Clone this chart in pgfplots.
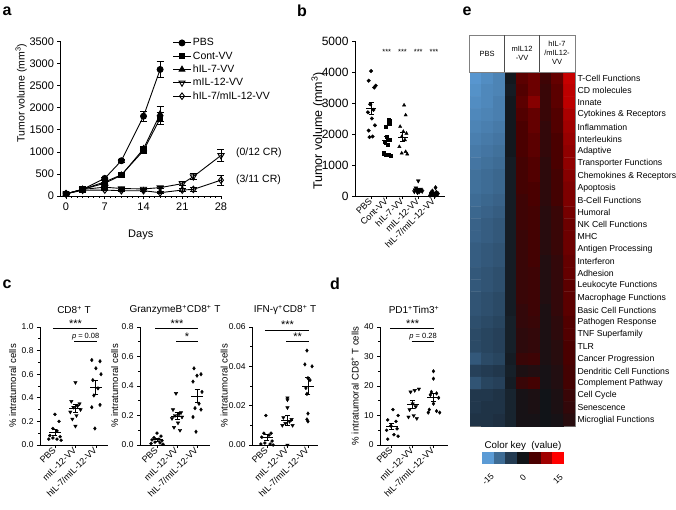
\documentclass[border=0pt]{standalone}
\usepackage{pgfplots}
\pgfplotsset{compat=1.18}
\usepackage{fontspec}
\setmainfont{Liberation Sans}
\newcommand\fs[1]{\fontsize{#1bp}{#1bp}\selectfont}
\pgfplotsset{
 /pgf/number format/assume math mode=true,
 /pgf/number format/1000 sep={},
 gp/.style={scale only axis, anchor=south west, axis x line*=bottom, axis y line*=left,
   axis line style={-, line width=0.8pt, black}, tick align=outside,
   tick style={black, line width=0.8pt}, major tick length=3bp, minor tick length=1.8bp,
   clip=false, enlargelimits=false, scaled ticks=false},
 msem/.style={black, only marks, mark=-, mark size=#1, line width=0.9pt,
   error bars/y dir=both, error bars/y explicit,
   error bars/error bar style={line width=0.9pt},
   error bars/error mark options={rotate=90, mark size=2.5bp, line width=0.9pt}},
 ebar/.style={error bars/y dir=both, error bars/y explicit,
   error bars/error bar style={line width=0.8pt, solid},
   error bars/error mark options={rotate=90, mark size=3.5bp, line width=0.8pt}},
 ccat/.style={xtick={0,1,2}, xticklabels={PBS,mIL-12-VV,hIL-7/mIL-12-VV},
   xticklabel style={rotate=45, anchor=east, font=\fs{9}, inner sep=1bp},
   yticklabel style={font=\fs{8.5}}, ylabel style={font=\fs{9.6}}, minor y tick num=1},
}
\definecolor{k1}{RGB}{91,155,213}
\definecolor{k2}{RGB}{62,108,149}
\definecolor{k3}{RGB}{35,59,82}
\definecolor{k4}{RGB}{17,20,24}
\definecolor{k5}{RGB}{74,0,0}
\definecolor{k6}{RGB}{160,0,0}
\definecolor{k7}{RGB}{255,0,0}
\begin{document}
\begin{tikzpicture}
\path[use as bounding box] (0,0) rectangle (676bp,-510bp);
% panel labels
\node[font=\fs{16}\bfseries] at (7bp,-11bp) {a};
\node[font=\fs{16}\bfseries] at (302bp,-11bp) {b};
\node[font=\fs{16}\bfseries] at (467bp,-11bp) {e};
\node[font=\fs{16}\bfseries] at (7bp,-284bp) {c};
\node[font=\fs{16}\bfseries] at (335bp,-284bp) {d};

% ---------------- panel a
\begin{axis}[gp, at={(60.5bp,-196bp)}, width=160.5bp, height=154.3bp,
  xmin=-1, xmax=28, ymin=0, ymax=3500,
  xtick={0,7,14,21,28}, minor xtick={1,2,3,4,5,6,8,9,10,11,12,13,15,16,17,18,19,20,22,23,24,25,26,27},
  ytick={0,500,1000,1500,2000,2500,3000,3500},
  ticklabel style={font=\fs{11}},
  xlabel={Days}, xlabel style={font=\fs{11}, at={(axis description cs:0.5,-0.255)}, anchor=center},
  ylabel={Tumor volume (mm\textsuperscript{3})}, ylabel style={font=\fs{10.5}, at={(axis description cs:-0.245,0.667)}, anchor=center},
  legend style={at={(axis description cs:0.70,1.035)}, anchor=north west, draw=none, fill=none,
    font=\fs{10.5}, row sep=0.4bp, inner sep=0pt},
  legend cell align=left]
\addplot[black, line width=0.9pt, mark=*, mark size=3bp, ebar] coordinates {
 (0,50)+-(0,10) (3,150)+-(0,15) (7,400)+-(0,30) (10,800)+-(0,40) (14,1810)+-(0,110) (17,2870)+-(0,180)};
\addlegendentry{PBS}
\addplot[black, line width=0.9pt, mark=square*, mark size=2.7bp, ebar] coordinates {
 (0,50)+-(0,10) (3,150)+-(0,15) (7,320)+-(0,25) (10,480)+-(0,30) (14,1030)+-(0,70) (17,1760)+-(0,140)};
\addlegendentry{Cont-VV}
\addplot[black, line width=0.9pt, mark=triangle*, mark size=3.3bp, ebar] coordinates {
 (0,50)+-(0,10) (3,150)+-(0,15) (7,290)+-(0,25) (10,470)+-(0,30) (14,1070)+-(0,60) (17,1860)+-(0,170)};
\addlegendentry{hIL-7-VV}
\addplot[black, line width=0.9pt, mark=triangle, mark size=3.5bp, mark options={rotate=180, fill=white, solid}, ebar] coordinates {
 (0,50)+-(0,10) (3,150)+-(0,15) (7,200)+-(0,20) (10,170)+-(0,20) (14,160)+-(0,20) (17,190)+-(0,25) (21,280)+-(0,40) (23,440)+-(0,70) (28,920)+-(0,130)};
\addlegendentry{mIL-12-VV}
\addplot[black, line width=0.9pt, mark=diamond, mark size=3.3bp, mark options={fill=white, solid}, ebar] coordinates {
 (0,50)+-(0,10) (3,130)+-(0,15) (7,135)+-(0,15) (10,120)+-(0,15) (14,120)+-(0,20) (17,75)+-(0,20) (21,135)+-(0,30) (23,150)+-(0,40) (28,360)+-(0,110)};
\addlegendentry{hIL-7/mIL-12-VV}
\node[anchor=west, font=\fs{10.5}] at (axis cs:30.1,975) {(0/12 CR)};
\node[anchor=west, font=\fs{10.5}] at (axis cs:30.1,363) {(3/11 CR)};
\end{axis}

% ---------------- panel b
\begin{axis}[gp, at={(355bp,-196bp)}, width=90bp, height=155bp,
  xmin=-1.02, xmax=4.7, ymin=0, ymax=5000,
  xtick={0,1,2,3,4}, xticklabels={PBS,Cont-VV,hIL-7-VV,mIL-12-VV,hIL-7/mIL-12-VV},
  xticklabel style={rotate=45, anchor=east, font=\fs{9}, inner sep=0.8bp},
  ytick={0,1000,2000,3000,4000,5000}, yticklabel style={font=\fs{12}},
  ylabel={Tumor volume (mm\textsuperscript{3})}, ylabel style={font=\fs{12.5}, at={(axis description cs:-0.41,0.42)}, anchor=center}]
\addplot[only marks, mark=*, mark size=1.8bp] coordinates {
 (0,4030) (-0.15,3720) (0.3,3560) (0.2,3500) (-0.05,2960) (0.15,2780) (-0.2,2700) (0.05,2500) (0.25,2280) (-0.15,2110) (0.1,1920) (-0.1,1900)};
\addplot[only marks, mark=square*, mark size=1.6bp] coordinates {
 (1.1,2470) (1.2,2420) (1.15,2320) (0.95,2240) (1.0,1910) (1.15,1810) (0.85,1750) (1.05,1650) (0.8,1380) (0.95,1340) (1.1,1320) (1.25,1310)};
\addplot[only marks, mark=triangle*, mark size=1.9bp] coordinates {
 (2.1,2930) (2.2,2610) (1.85,2240) (2.05,2080) (2.25,2020) (1.95,1910) (2.15,1810) (1.8,1590) (2.2,1430) (1.95,1380) (2.3,1350)};
\addplot[only marks, mark=triangle*, mark size=2.2bp, mark options={rotate=180}] coordinates {
 (3.0,490) (2.85,260) (3.15,220) (2.8,200) (3.2,190) (3.0,180) (2.9,170) (3.1,160) (3.25,150) (2.75,140) (3.05,130) (2.95,110)};
\addplot[only marks, mark=diamond*, mark size=2.2bp] coordinates {
 (4.1,270) (3.9,160) (4.15,120) (3.8,100) (4.25,80) (4.0,70) (3.85,60) (4.2,50) (3.95,40) (4.1,30) (3.75,20)};
\addplot[msem=5bp] coordinates {(0,2830)+-(0,200) (1,1790)+-(0,120) (2,1900)+-(0,150) (3,200)+-(0,30) (4,90)+-(0,25)};
\node[font=\fs{7.5}] at (axis cs:1,4640) {***};
\node[font=\fs{7.5}] at (axis cs:2,4640) {***};
\node[font=\fs{7.5}] at (axis cs:3,4640) {***};
\node[font=\fs{7.5}] at (axis cs:4,4640) {***};
\end{axis}

% ---------------- panel c1
\begin{axis}[gp, ccat, at={(40bp,-445bp)}, width=68bp, height=118bp,
  xmin=-0.73, xmax=2.59, ymin=0, ymax=1,
  ytick={0,0.2,0.4,0.6,0.8,1},
  yticklabel style={/pgf/number format/fixed, /pgf/number format/fixed zerofill, /pgf/number format/precision=1},
  ylabel={\% intratumoral cells}, ylabel style={at={(axis description cs:-0.40,0.5)}, anchor=center}]
\addplot[only marks, mark=*, mark size=1.5bp] coordinates {
 (0,0.26) (0.2,0.20) (-0.1,0.14) (0.1,0.12) (-0.25,0.08) (0.25,0.07) (-0.1,0.06) (0.1,0.05) (-0.3,0.05) (0.3,0.04)};
\addplot[only marks, mark=triangle*, mark size=2bp, mark options={rotate=180}] coordinates {
 (1,0.53) (0.8,0.37) (1.2,0.35) (1.1,0.33) (0.9,0.32) (1.25,0.30) (0.75,0.28) (1.05,0.25) (0.85,0.22) (1,0.16)};
\addplot[only marks, mark=diamond*, mark size=1.8bp] coordinates {
 (1.8,0.72) (2.2,0.71) (2.0,0.65) (2.25,0.60) (1.85,0.55) (2.1,0.48) (1.9,0.42) (2.2,0.34) (1.8,0.32) (1.95,0.14)};
\addplot[msem=6bp] coordinates {(0,0.107)+-(0,0.022) (1,0.31)+-(0,0.03) (2,0.49)+-(0,0.06)};
\draw[line width=0.9pt] (axis cs:-0.1,0.985) -- (axis cs:2.05,0.985);
\draw[line width=0.9pt] (axis cs:0.95,0.88) -- (axis cs:2.05,0.88);
\node[font=\fs{11}, anchor=base] at (axis cs:1,0.995) {***};
\node[font=\fs{7.5}, anchor=base] at (axis cs:1.5,0.9) {\textit{p} = 0.08};
\node[font=\fs{10}] at (rel axis cs:0.5,1) [yshift=17bp] {CD8\textsuperscript{+} T};
\end{axis}

% ---------------- panel c2
\begin{axis}[gp, ccat, at={(140bp,-445bp)}, width=70bp, height=118bp,
  xmin=-0.85, xmax=2.65, ymin=0, ymax=0.8,
  ytick={0,0.2,0.4,0.6,0.8},
  yticklabel style={/pgf/number format/fixed, /pgf/number format/fixed zerofill, /pgf/number format/precision=1},
  ylabel={\% intratumoral cells}, ylabel style={at={(axis description cs:-0.36,0.5)}, anchor=center}]
\addplot[only marks, mark=*, mark size=1.5bp] coordinates {
 (0,0.08) (0.2,0.06) (-0.15,0.05) (0.1,0.04) (-0.25,0.035) (0.25,0.03) (-0.1,0.02) (0.15,0.015) (-0.3,0.01) (0.3,0.005)};
\addplot[only marks, mark=triangle*, mark size=2bp, mark options={rotate=180}] coordinates {
 (0.95,0.35) (0.8,0.24) (1.2,0.22) (1.1,0.21) (0.9,0.20) (1.25,0.19) (0.75,0.18) (1.05,0.15) (0.85,0.12) (1.15,0.10)};
\addplot[only marks, mark=diamond*, mark size=1.8bp] coordinates {
 (1.85,0.52) (2.2,0.48) (2.0,0.47) (1.8,0.43) (2.25,0.36) (2.1,0.28) (1.9,0.25) (2.2,0.24) (1.8,0.19) (1.95,0.09)};
\addplot[msem=6bp] coordinates {(0,0.0345)+-(0,0.008) (1,0.196)+-(0,0.022) (2,0.331)+-(0,0.045)};
\draw[line width=0.9pt] (axis cs:-0.1,0.788) -- (axis cs:2.05,0.788);
\draw[line width=0.9pt] (axis cs:0.95,0.70) -- (axis cs:2.05,0.70);
\node[font=\fs{11}, anchor=base] at (axis cs:1,0.796) {***};
\node[font=\fs{11}, anchor=base] at (axis cs:1.5,0.708) {*};
\node[font=\fs{10}] at (rel axis cs:0.5,1) [yshift=17bp] {GranzymeB\textsuperscript{+}CD8\textsuperscript{+} T};
\end{axis}

% ---------------- panel c3
\begin{axis}[gp, ccat, at={(252bp,-445bp)}, width=66bp, height=118bp,
  xmin=-0.73, xmax=2.49, ymin=0, ymax=0.06,
  ytick={0,0.02,0.04,0.06},
  yticklabel style={/pgf/number format/fixed, /pgf/number format/fixed zerofill, /pgf/number format/precision=2},
  ylabel={\% intratumoral cells}, ylabel style={at={(axis description cs:-0.42,0.5)}, anchor=center}]
\addplot[only marks, mark=*, mark size=1.5bp] coordinates {
 (-0.05,0.015) (0.2,0.006) (-0.15,0.006) (0.1,0.005) (-0.25,0.004) (0.25,0.002) (-0.1,0.001) (0.15,0.0005) (-0.3,0.0005) (0.3,0.0)};
\addplot[only marks, mark=triangle*, mark size=2bp, mark options={rotate=180}] coordinates {
 (1.0,0.024) (1.0,0.023) (1.0,0.019) (0.8,0.014) (1.2,0.013) (1.1,0.012) (0.9,0.011) (1.25,0.010) (0.75,0.010) (1.0,0.0)};
\addplot[only marks, mark=diamond*, mark size=1.8bp] coordinates {
 (1.95,0.048) (1.85,0.041) (2.2,0.040) (2.0,0.034) (2.1,0.033) (1.9,0.029) (1.95,0.026) (2.0,0.016) (1.95,0.013) (2.0,0.012)};
\addplot[msem=6bp] coordinates {(0,0.004)+-(0,0.0015) (1,0.0125)+-(0,0.0025) (2,0.030)+-(0,0.0042)};
\draw[line width=0.9pt] (axis cs:-0.1,0.0585) -- (axis cs:2.05,0.0585);
\draw[line width=0.9pt] (axis cs:0.95,0.0525) -- (axis cs:2.05,0.0525);
\node[font=\fs{11}, anchor=base] at (axis cs:1,0.0591) {***};
\node[font=\fs{11}, anchor=base] at (axis cs:1.5,0.0531) {**};
\node[font=\fs{10}] at (rel axis cs:0.5,1) [yshift=17bp] {IFN-γ\textsuperscript{+}CD8\textsuperscript{+} T};
\end{axis}

% ---------------- panel d
\begin{axis}[gp, ccat, at={(380bp,-445bp)}, width=68bp, height=118bp,
  xmin=-0.57, xmax=2.7, ymin=0, ymax=40,
  ytick={0,10,20,30,40},
  ylabel={\% intratumoral CD8\textsuperscript{+} T cells}, ylabel style={at={(axis description cs:-0.37,0.5)}, anchor=center}]
\addplot[only marks, mark=*, mark size=1.5bp] coordinates {
 (0.05,12) (0.3,10) (-0.2,8.5) (0.2,8) (-0.05,6.5) (0.25,5.5) (-0.25,5) (0.1,3.5) (0.3,3) (-0.2,2)};
\addplot[only marks, mark=triangle*, mark size=2bp, mark options={rotate=180}] coordinates {
 (1.3,19) (1.1,18.5) (0.9,18) (1.0,14) (1.15,13) (0.85,12) (1.05,10) (0.8,9.5) (1.2,9)};
\addplot[only marks, mark=diamond*, mark size=1.8bp] coordinates {
 (2.0,25) (2.0,22.5) (1.9,18) (2.15,17.5) (1.85,17) (2.25,16) (2.0,14) (1.8,12) (2.15,11.5) (1.75,11) (2.3,11)};
\addplot[msem=6bp] coordinates {(0,6.2)+-(0,1.0) (1,13.7)+-(0,1.3) (2,16)+-(0,1.4)};
\draw[line width=0.9pt] (axis cs:-0.1,39.4) -- (axis cs:2.05,39.4);
\draw[line width=0.9pt] (axis cs:0.95,35) -- (axis cs:2.05,35);
\node[font=\fs{11}, anchor=base] at (axis cs:1,39.9) {***};
\node[font=\fs{7.5}, anchor=base] at (axis cs:1.5,36.2) {\textit{p} = 0.28};
\node[font=\fs{10}] at (rel axis cs:0.5,1) [yshift=17bp] {PD1\textsuperscript{+}Tim3\textsuperscript{+}};
\end{axis}

% ---------------- panel e heatmap
\begin{axis}[scale only axis, anchor=south west, at={(470bp,-426bp)}, width=105bp, height=354bp,
  xmin=-0.5, xmax=8.5, ymin=-0.5, ymax=28.5, y dir=reverse, enlargelimits=false,
  axis line style={gray, line width=0.5pt}, xtick=\empty,
  ytick={0,...,28}, major tick length=0pt, yticklabel pos=right,
  yticklabel style={font=\fs{8.7}, anchor=west, xshift=-1bp},
  yticklabels={T-Cell Functions,CD molecules,Innate,Cytokines \& Receptors,Inflammation,Interleukins,Adaptive,Transporter Functions,Chemokines \& Receptors,Apoptosis,B-Cell Functions,Humoral,NK Cell Functions,MHC,Antigen Processing,Interferon,Adhesion,Leukocyte Functions,Macrophage Functions,Basic Cell Functions,Pathogen Response,TNF Superfamily,TLR,Cancer Progression,Dendritic Cell Functions,Complement Pathway,Cell Cycle,Senescence,Microglial Functions},
  colormap={hm}{rgb255=(91,155,213) rgb255=(62,108,149) rgb255=(35,59,82) rgb255=(17,20,24) rgb255=(74,0,0) rgb255=(160,0,0) rgb255=(255,0,0)},
  point meta min=-15, point meta max=15]
\addplot[matrix plot*, mesh/cols=9, point meta=explicit] coordinates {
(0,0)[-14.5] (1,0)[-13.5] (2,0)[-12.5] (3,0)[-0.5] (4,0)[6] (5,0)[7] (6,0)[4] (7,0)[6.5] (8,0)[12]
(0,1)[-14] (1,1)[-13] (2,1)[-12.5] (3,1)[-1] (4,1)[5.5] (5,1)[7] (6,1)[3.5] (7,1)[6] (8,1)[11.5]
(0,2)[-13.5] (1,2)[-13] (2,2)[-12] (3,2)[-0.5] (4,2)[6] (5,2)[8.5] (6,2)[3.5] (7,2)[6] (8,2)[11.5]
(0,3)[-13] (1,3)[-12.5] (2,3)[-12] (3,3)[-0.5] (4,3)[5.5] (5,3)[6.5] (6,3)[3.5] (7,3)[5.5] (8,3)[10.5]
(0,4)[-12.5] (1,4)[-12] (2,4)[-11.5] (3,4)[-0.5] (4,4)[5] (5,4)[6.5] (6,4)[3] (7,4)[5.5] (8,4)[10]
(0,5)[-12] (1,5)[-11.5] (2,5)[-11] (3,5)[-0.5] (4,5)[5] (5,5)[6] (6,5)[3] (7,5)[5] (8,5)[9.5]
(0,6)[-11.5] (1,6)[-11] (2,6)[-10.5] (3,6)[-0.5] (4,6)[5] (5,6)[6] (6,6)[3] (7,6)[5] (8,6)[9]
(0,7)[-11] (1,7)[-10.5] (2,7)[-10] (3,7)[-1] (4,7)[4.5] (5,7)[5.5] (6,7)[2.5] (7,7)[5] (8,7)[9]
(0,8)[-10.5] (1,8)[-10] (2,8)[-9.5] (3,8)[-1] (4,8)[4.5] (5,8)[5.5] (6,8)[2.5] (7,8)[4.5] (8,8)[8.5]
(0,9)[-10.5] (1,9)[-10] (2,9)[-9.5] (3,9)[-1] (4,9)[4.5] (5,9)[5] (6,9)[2.5] (7,9)[4.5] (8,9)[8]
(0,10)[-10] (1,10)[-9.5] (2,10)[-9] (3,10)[-1] (4,10)[4] (5,10)[5] (6,10)[2.5] (7,10)[4.5] (8,10)[8]
(0,11)[-9.5] (1,11)[-9] (2,11)[-8.5] (3,11)[-1] (4,11)[4] (5,11)[4.5] (6,11)[2] (7,11)[3.5] (8,11)[7.5]
(0,12)[-9] (1,12)[-8.5] (2,12)[-8] (3,12)[-1] (4,12)[4] (5,12)[4.5] (6,12)[2] (7,12)[3.5] (8,12)[7]
(0,13)[-9] (1,13)[-8.5] (2,13)[-8] (3,13)[-1] (4,13)[3.5] (5,13)[4.5] (6,13)[2] (7,13)[3.5] (8,13)[7]
(0,14)[-8.5] (1,14)[-8] (2,14)[-7.5] (3,14)[-1] (4,14)[3.5] (5,14)[4.5] (6,14)[2] (7,14)[3.5] (8,14)[7]
(0,15)[-8.5] (1,15)[-8] (2,15)[-7.5] (3,15)[-1] (4,15)[3.5] (5,15)[4.5] (6,15)[1.5] (7,15)[3] (8,15)[6.5]
(0,16)[-8] (1,16)[-7.5] (2,16)[-7] (3,16)[-1] (4,16)[3.5] (5,16)[4] (6,16)[1.5] (7,16)[3] (8,16)[6.5]
(0,17)[-8] (1,17)[-7.5] (2,17)[-7] (3,17)[-1] (4,17)[3.5] (5,17)[4] (6,17)[1.5] (7,17)[3] (8,17)[6]
(0,18)[-7.5] (1,18)[-7] (2,18)[-6.5] (3,18)[-1] (4,18)[3.5] (5,18)[4] (6,18)[1.5] (7,18)[3] (8,18)[6]
(0,19)[-7.5] (1,19)[-7] (2,19)[-6.5] (3,19)[-1] (4,19)[3] (5,19)[4] (6,19)[1] (7,19)[3] (8,19)[6]
(0,20)[-7] (1,20)[-6.5] (2,20)[-6] (3,20)[-1.5] (4,20)[3] (5,20)[3.5] (6,20)[1] (7,20)[2.5] (8,20)[5.5]
(0,21)[-6.5] (1,21)[-6] (2,21)[-5.5] (3,21)[-1.5] (4,21)[2.5] (5,21)[3] (6,21)[1] (7,21)[2.5] (8,21)[5.5]
(0,22)[-6.5] (1,22)[-6] (2,22)[-5.5] (3,22)[-1.5] (4,22)[2.5] (5,22)[3] (6,22)[1] (7,22)[2] (8,22)[5]
(0,23)[-8] (1,23)[-6.5] (2,23)[-6] (3,23)[-1] (4,23)[3.5] (5,23)[4] (6,23)[1] (7,23)[2] (8,23)[5]
(0,24)[-5.5] (1,24)[-5] (2,24)[-4.5] (3,24)[-1.5] (4,24)[1] (5,24)[1.5] (6,24)[0.5] (7,24)[1.5] (8,24)[4.5]
(0,25)[-7.5] (1,25)[-6] (2,25)[-5.5] (3,25)[-1] (4,25)[3.5] (5,25)[4.5] (6,25)[0.5] (7,25)[1.5] (8,25)[4.5]
(0,26)[-4.5] (1,26)[-4.5] (2,26)[-4] (3,26)[-2] (4,26)[0.5] (5,26)[1] (6,26)[0] (7,26)[1] (8,26)[3.5]
(0,27)[-4.5] (1,27)[-4] (2,27)[-4] (3,27)[-2] (4,27)[0.5] (5,27)[1] (6,27)[0] (7,27)[1] (8,27)[3]
(0,28)[-4] (1,28)[-4] (2,28)[-3.5] (3,28)[-2] (4,28)[0.5] (5,28)[0.5] (6,28)[0] (7,28)[0.5] (8,28)[2]
};
\end{axis}
% header of heatmap
\draw[gray, line width=0.5pt] (469.5bp,-35bp) rectangle (575bp,-72bp);
\draw[gray!60!black, line width=0.5pt] (504.5bp,-35bp) -- (504.5bp,-72bp);
\draw[gray!60!black, line width=0.5pt] (539.5bp,-35bp) -- (539.5bp,-72bp);
\node[font=\fs{7.5}] at (487bp,-53.5bp) {PBS};
\node[font=\fs{7.5}, align=center, inner sep=0pt] at (522bp,-53.5bp) {mIL12\\[1.5bp]-VV};
\node[font=\fs{7.5}, align=center, inner sep=0pt] at (557bp,-53bp) {hIL-7\\[1.5bp]/mIL12-\\[1.5bp]VV};
% colour key
\node[font=\fs{9.8}, inner sep=0pt] at (523bp,-446bp) {Color key\ \ (value)};
\fill[k1] (482bp,-452bp) rectangle (493.7bp,-464bp);
\fill[k2] (493.7bp,-452bp) rectangle (505.4bp,-464bp);
\fill[k3] (505.4bp,-452bp) rectangle (517.1bp,-464bp);
\fill[k4] (517.1bp,-452bp) rectangle (528.8bp,-464bp);
\fill[k5] (528.8bp,-452bp) rectangle (540.5bp,-464bp);
\fill[k6] (540.5bp,-452bp) rectangle (552.2bp,-464bp);
\fill[k7] (552.2bp,-452bp) rectangle (564bp,-464bp);
\node[font=\fs{8.5}, rotate=45, inner sep=0pt] at (488bp,-479bp) {-15};
\node[font=\fs{8.5}, rotate=45, inner sep=0pt] at (523bp,-478bp) {0};
\node[font=\fs{8.5}, rotate=45, inner sep=0pt] at (558bp,-479bp) {15};
\end{tikzpicture}
\end{document}
